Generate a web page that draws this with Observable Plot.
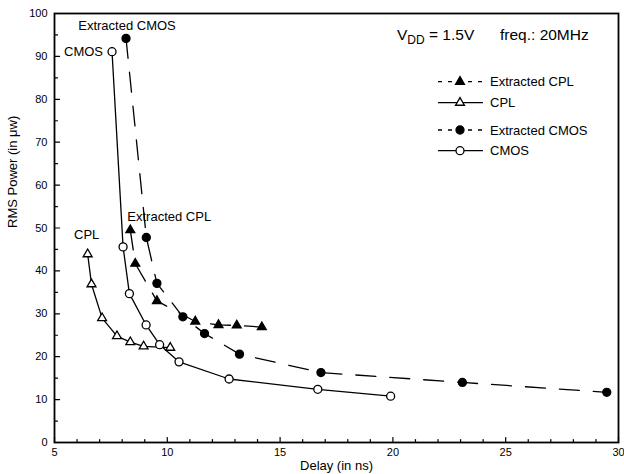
<!DOCTYPE html>
<html><head><meta charset="utf-8">
<script src="https://cdn.jsdelivr.net/npm/d3@7"></script>
<script src="https://cdn.jsdelivr.net/npm/@observablehq/plot@0.6"></script>
<style>
body{margin:0;background:#fff;}
#chart{position:relative;width:624px;height:474px;}
svg{font-family:"Liberation Sans",Arial,Helvetica,sans-serif;}
</style></head><body><div id="chart"></div>
<script>
// ---- data ----
const seriesNames = ["Extracted CPL", "CPL", "Extracted CMOS", "CMOS"];
const extCplDelay  = [8.36, 8.58, 9.54, 11.24, 12.27, 13.08, 14.19];
const extCplPower  = [49.5, 41.7, 33.0, 28.2, 27.4, 27.3, 26.9];
const cplDelay     = [6.47, 6.64, 7.11, 7.77, 8.36, 8.95, 10.13];
const cplPower     = [43.9, 36.9, 29.0, 24.8, 23.4, 22.4, 22.1];
const extCmosDelay = [8.17, 9.07, 9.54, 10.69, 11.65, 13.2, 16.81, 23.08, 29.48];
const extCmosPower = [94.2, 47.8, 37.1, 29.3, 25.4, 20.6, 16.3, 14.0, 11.7];
const cmosDelay    = [7.55, 8.04, 8.32, 9.06, 9.66, 10.52, 12.74, 16.67, 19.9];
const cmosPower    = [91.1, 45.6, 34.7, 27.4, 22.8, 18.8, 14.8, 12.4, 10.8];
const xTicks = [5, 10, 15, 20, 25, 30];
const yTicks = [0, 10, 20, 30, 40, 50, 60, 70, 80, 90, 100];
const xMinor = d3.range(5, 31).filter(v => v % 5 !== 0);
const yMinor = d3.range(5, 100, 10);
const xLabel = "Delay (in ns)";
const yLabel = "RMS Power (in \u03bcw)";

// ---- styles ----
const style = {
  "Extracted CPL":  {symbol: "triangle", fill: "black", dash: "20,14", label: {dx: -3, dy: -13, anchor: "start"}},
  "CPL":            {symbol: "triangle", fill: "white", dash: null,    label: {dx: -1, dy: -19, anchor: "middle"}},
  "Extracted CMOS": {symbol: "circle",   fill: "black", dash: "20,14", label: {dx: 1,  dy: -13, anchor: "middle"}},
  "CMOS":           {symbol: "circle",   fill: "white", dash: null,    label: {dx: -9, dy: 0,   anchor: "end"}}
};
const raw = {
  "Extracted CPL": [extCplDelay, extCplPower],
  "CPL": [cplDelay, cplPower],
  "Extracted CMOS": [extCmosDelay, extCmosPower],
  "CMOS": [cmosDelay, cmosPower]
};
const rows = seriesNames.flatMap(s => raw[s][0].map((d, i) => ({series: s, delay: d, power: raw[s][1][i]})));

const tickShape = {draw(ctx, l) { ctx.moveTo(0, 0); ctx.lineTo(0, -l); }};

const marks = [];
for (const s of seriesNames) {
  const st = style[s];
  const data = rows.filter(r => r.series === s);
  marks.push(Plot.line(data, {x: "delay", y: "power", stroke: "black", strokeWidth: 1.3, strokeDasharray: st.dash}));
}
for (const s of seriesNames) {
  const st = style[s];
  const data = rows.filter(r => r.series === s);
  marks.push(Plot.dot(data, {x: "delay", y: "power", symbol: st.symbol, r: st.symbol === "circle" ? 4 : 3.3,
    fill: st.fill, stroke: "black", strokeWidth: 1.3}));
  marks.push(Plot.text([data[0]], {x: "delay", y: "power", text: () => s, dx: st.label.dx, dy: st.label.dy,
    textAnchor: st.label.anchor, fontSize: 13, fill: "black"}));
}

const chart = Plot.plot({
  width: 624, height: 474,
  marginLeft: 54, marginRight: 6, marginTop: 13, marginBottom: 32,
  x: {domain: [5, 30]},
  y: {domain: [0, 100]},
  style: {fontFamily: '"Liberation Sans", Arial, sans-serif', color: "black", background: "white"},
  marks: [
    ...marks,
    Plot.vector(xTicks, {x: d => d, frameAnchor: "bottom", length: 5, rotate: 0, anchor: "start", shape: tickShape, stroke: "black", strokeWidth: 1.2}),
    Plot.vector(xMinor, {x: d => d, frameAnchor: "bottom", length: 3, rotate: 0, anchor: "start", shape: tickShape, stroke: "black", strokeWidth: 1.2}),
    Plot.vector(yTicks, {y: d => d, frameAnchor: "left", length: 5, rotate: 90, anchor: "start", shape: tickShape, stroke: "black", strokeWidth: 1.2}),
    Plot.vector(yMinor, {y: d => d, frameAnchor: "left", length: 3, rotate: 90, anchor: "start", shape: tickShape, stroke: "black", strokeWidth: 1.2}),
    Plot.axisX(xTicks, {tickSize: 0, tickPadding: 6, fontSize: 11, label: null}),
    Plot.axisY(yTicks, {tickSize: 0, tickPadding: 7, fontSize: 11, label: null}),
    Plot.text([xLabel], {text: d => d, frameAnchor: "bottom", dy: 27, fontSize: 13}),
    Plot.text([yLabel], {text: d => d, frameAnchor: "left", dx: -42, rotate: -90, fontSize: 13}),
    Plot.frame({stroke: "black", strokeWidth: 1.8})
  ]
});
document.getElementById("chart").appendChild(chart);

// ---- legend and condition annotation ----
const svg = d3.select(chart);
const legendY = [81.7, 102.7, 130, 150.7];
const lg = svg.append("g").attr("font-size", 13).attr("text-anchor", "start");
seriesNames.forEach((s, i) => {
  const st = style[s];
  const y = legendY[i];
  lg.append("line").attr("x1", 438).attr("x2", 483).attr("y1", y).attr("y2", y)
    .attr("stroke", "black").attr("stroke-width", 1.3)
    .attr("stroke-dasharray", st.dash ? "4,6" : null);
  const sym = st.symbol === "circle" ? d3.symbolCircle : d3.symbolTriangle;
  lg.append("path").attr("d", d3.symbol(sym, st.symbol === "circle" ? Math.PI * 16 : Math.PI * 3.3 * 3.3)())
    .attr("transform", `translate(460,${y})`).attr("fill", st.fill).attr("stroke", "black").attr("stroke-width", 1.3);
  lg.append("text").attr("x", 490).attr("y", y).attr("dy", "0.35em").attr("text-anchor", "start").text(s);
});
const ann = svg.append("text").attr("x", 397).attr("y", 40).attr("font-size", 15.5).attr("text-anchor", "start");
ann.append("tspan").text("V");
ann.append("tspan").attr("font-size", 12).attr("dy", 4).text("DD");
ann.append("tspan").attr("dy", -4).text(" = 1.5V");
svg.append("text").attr("x", 500).attr("y", 40).attr("font-size", 15.5).attr("text-anchor", "start").text("freq.: 20MHz");
</script></body></html>
